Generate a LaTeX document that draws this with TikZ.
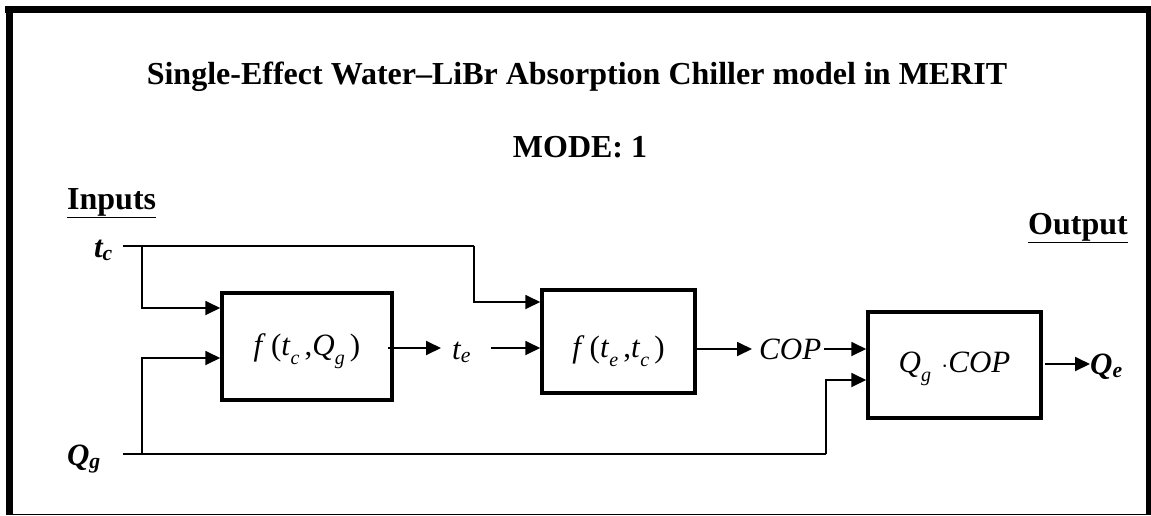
\documentclass[tikz,border=0pt]{standalone}
\usepackage{fontspec}
\setmainfont{Liberation Serif}
\usetikzlibrary{arrows.meta}
\newcommand{\mi}[1]{\textit{#1}}
\newcommand{\subi}[1]{\raisebox{-0.3em}{\fontsize{20}{20}\selectfont\itshape #1}}
\newcommand{\boxtxt}[2]{\raisebox{0pt}[#1pt][0pt]{#2}}
\begin{document}
\begin{tikzpicture}[x=1pt,y=-1pt,
  box/.style={draw,line width=3.5pt,inner sep=0pt,font=\fontsize{31}{31}\selectfont},
  conn/.style={line width=1.8pt},
  arr/.style={conn,-{Triangle[length=15pt,width=14pt]}},
  lbl/.style={inner sep=0pt,font=\fontsize{31}{31}\selectfont\itshape},
  blbl/.style={inner sep=0pt,font=\fontsize{31}{31}\selectfont\bfseries\itshape},
  head/.style={inner sep=0pt,font=\fontsize{32}{38}\selectfont\bfseries}]
\useasboundingbox (0,0) rectangle (1151,515);
% frame
\fill (5,6) rectangle (1151,13);
\fill (6,6) rectangle (13,515);
\fill (1146,6) rectangle (1151,515);
\draw[line width=1pt] (6,514) -- (1151,514);
% headings
\node[head,anchor=base] (title) at (577,84) {Single-Effect Water–LiBr Absorption Chiller model in MERIT};
\node[head,anchor=base] (mode) at (580,157) {MODE: 1};
\node[head,anchor=base west] (inputs) at (67,209) {\underline{Inputs}};
\node[head,anchor=base east] (output) at (1128,234) {\underline{Output}};
% boxes
\node[box,minimum width=170,minimum height=107] (b1) at (307,346.5) {\boxtxt{17}{\mi{f}\,(\mi{t}\subi{c}\,,\mi{Q}\subi{g}\,)}};
\node[box,minimum width=153,minimum height=103] (b2) at (618.5,341.5) {\boxtxt{31}{\mi{f}\,(\mi{t}\subi{e}\,,\mi{t}\subi{c}\,)}};
\node[box,minimum width=173,minimum height=106] (b3) at (954.5,365) {\boxtxt{14}{\mi{Q}\subi{g}\,\,$\cdot$\mi{COP}}};
% labels
\node[blbl,anchor=base east] (tc) at (113,257) {t\textsubscript{c}};
\node[blbl,anchor=base east] (qg) at (101,465) {Q\textsubscript{g}};
\node[lbl,anchor=base west] (te) at (452,359) {t\textsubscript{e}};
\node[lbl,anchor=base west] (cop) at (759,359) {COP};
\node[blbl,anchor=base west] (qe) at (1090,374) {Q\textsubscript{e}};
% junctions
\coordinate (tcs) at (123,246);
\coordinate (jc) at (142,246);
\coordinate (tct) at (474,246);
\coordinate (qgs) at (123,454);
\coordinate (jq) at (142,454);
\coordinate (qgt) at (826,454);
% connectors
\draw[conn] (tcs) -- (tct);
\draw[arr] (tct) |- (b2.west |- 0,302);
\draw[arr] (jc) |- (b1.west |- 0,308);
\draw[conn] (qgs) -- (qgt);
\draw[arr] (qgt) |- (b3.west |- 0,380);
\draw[arr] (jq) |- (b1.west |- 0,358);
\draw[arr,shorten >=11pt] (b1.east |- 0,348) ++(-6,0) -- (te.west |- 0,348);
\draw[arr] (te.east |- 0,348) ++(20,0) -- (b2.west |- 0,348);
\draw[arr,shorten >=7pt] (b2.east |- 0,349) -- (cop.west |- 0,349);
\draw[arr] (cop.east |- 0,349) ++(3,0) -- (b3.west |- 0,349);
\draw[arr] (b3.east |- 0,364) ++(2,0) -- (qe.west |- 0,364);
\end{tikzpicture}
\end{document}
